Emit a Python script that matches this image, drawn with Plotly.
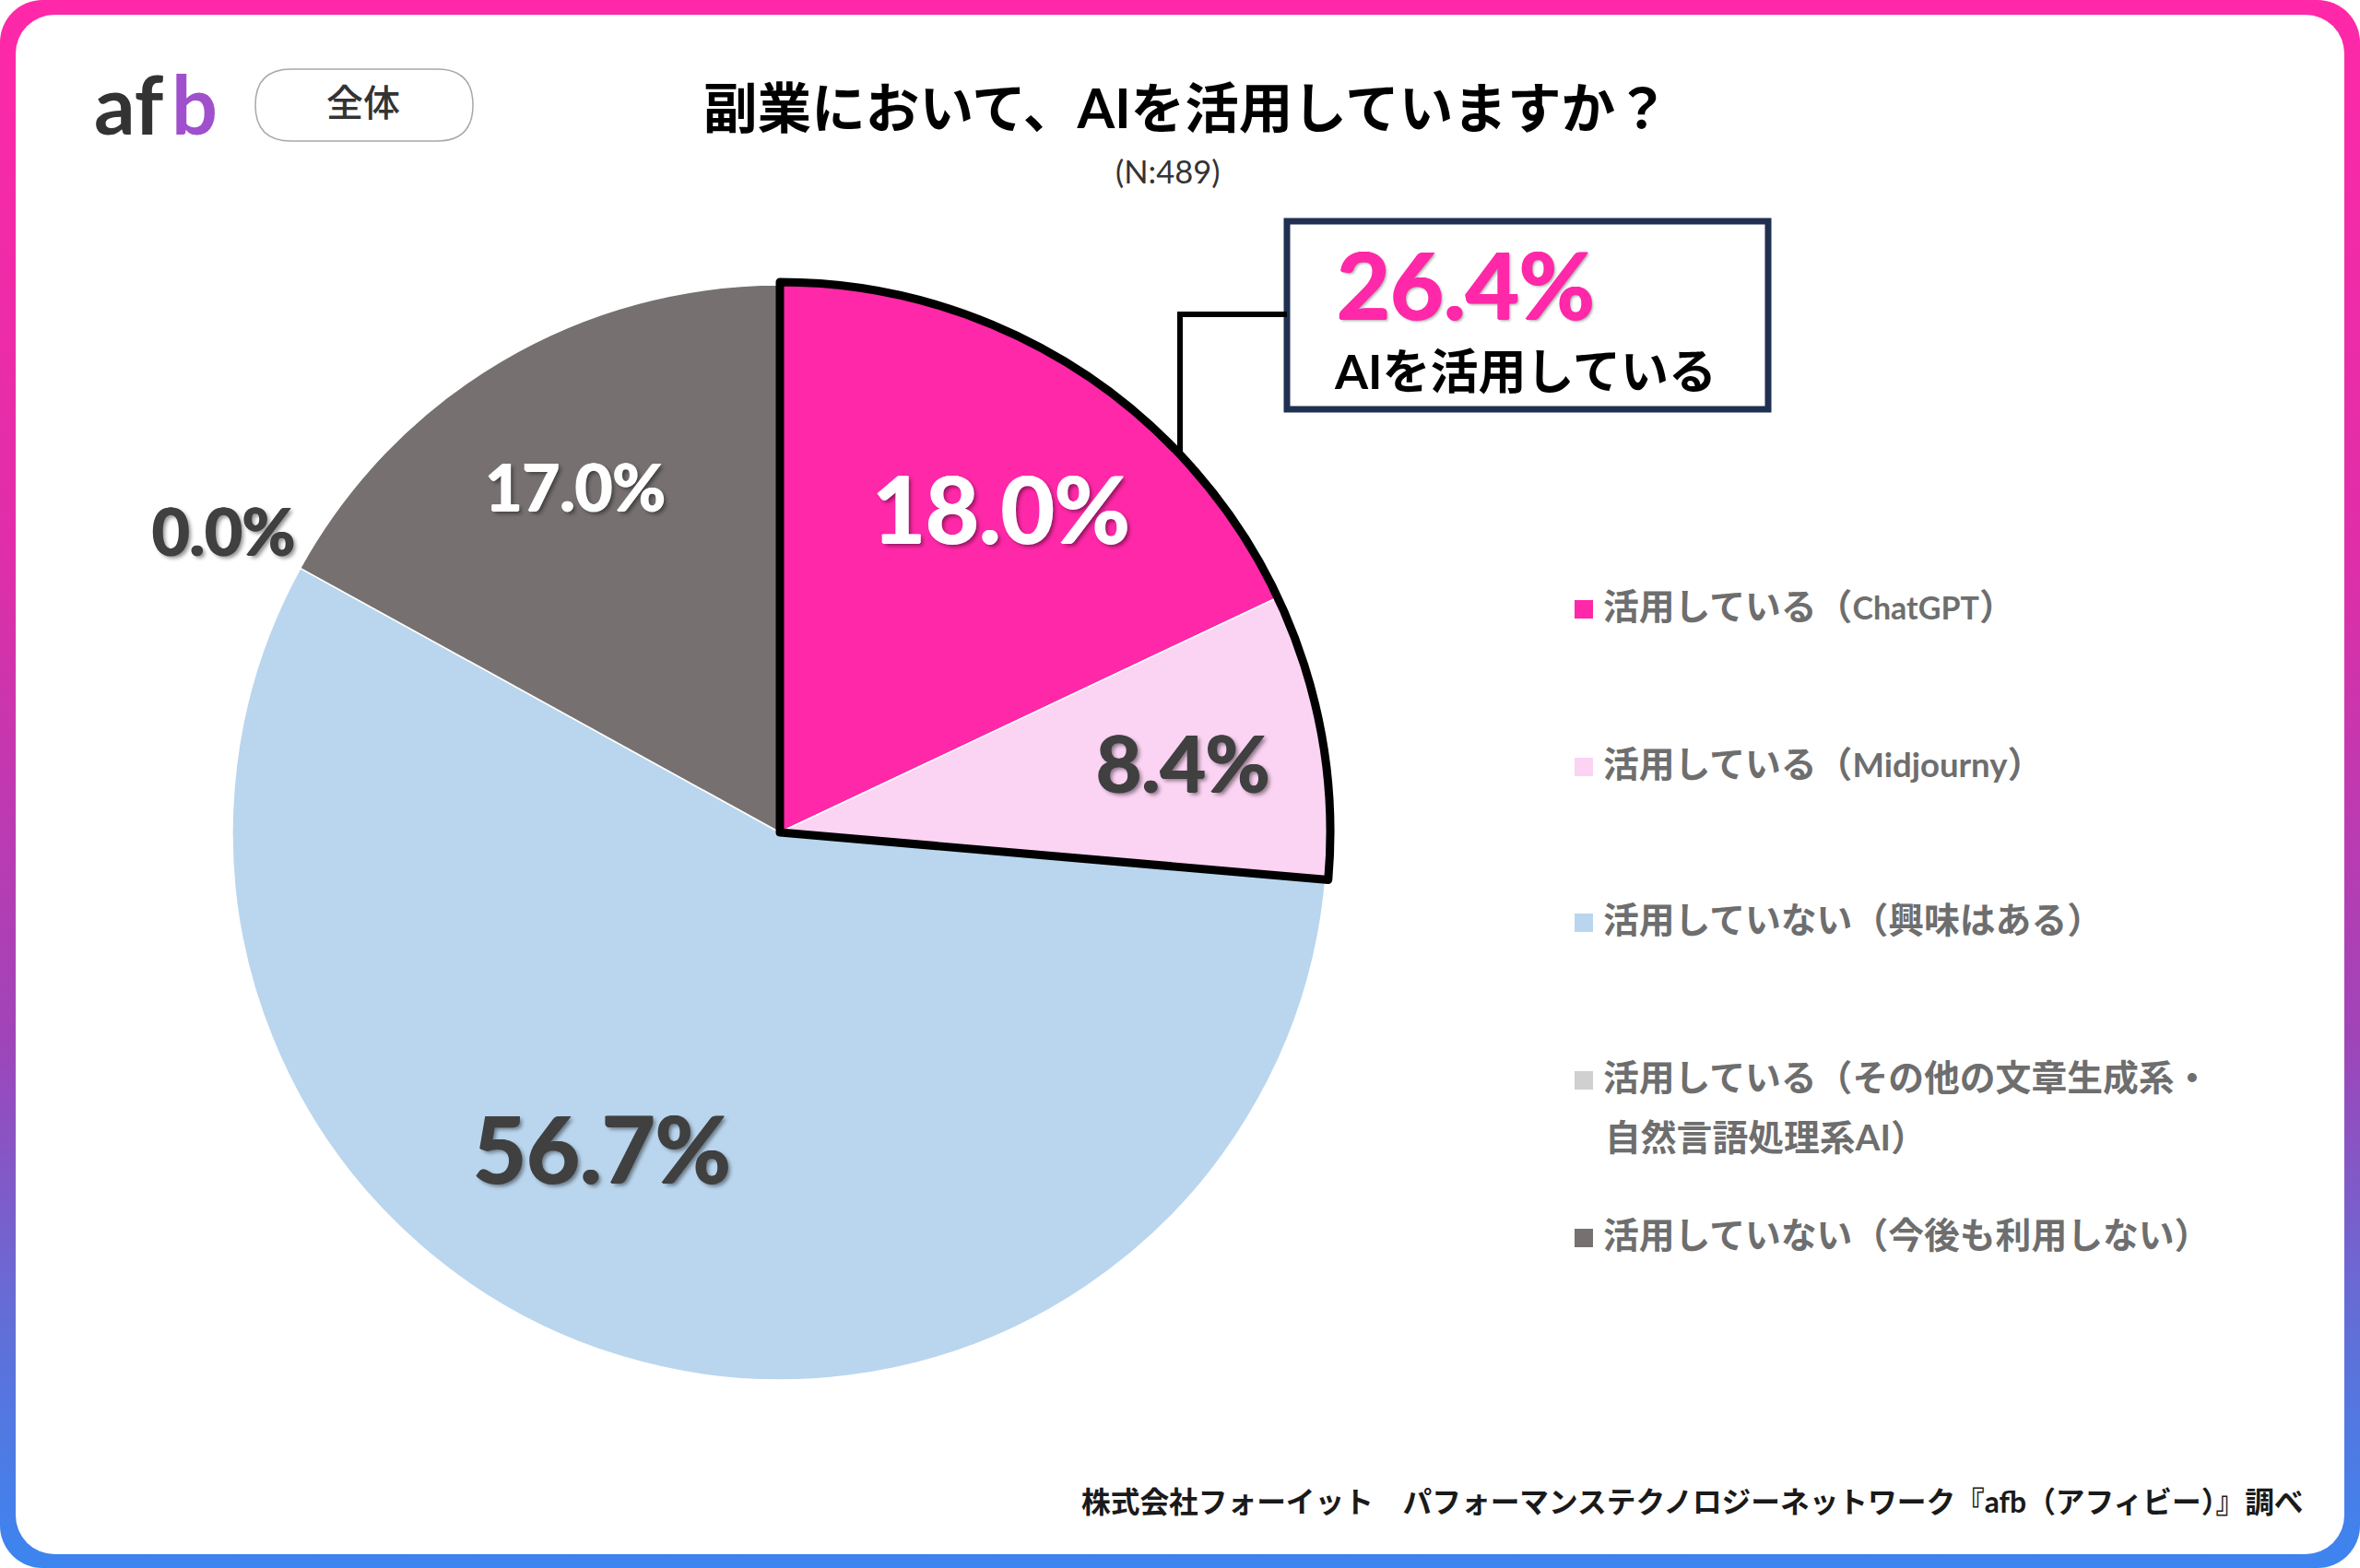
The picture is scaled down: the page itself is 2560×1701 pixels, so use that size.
import base64
import plotly.graph_objects as go

W, H = 2560, 1701

# ---- data ----
categories = ["活用している（ChatGPT）", "活用している（Midjourny）", "活用していない（興味はある）",
              "活用している（その他の文章生成系・自然言語処理系AI）", "活用していない（今後も利用しない）"]
values = [18.0, 8.4, 56.7, 0.0, 17.0]
highlight_indices = [0, 1]
highlight_caption = "AIを活用している"
legend_lines = [["活用している（ChatGPT）"], ["活用している（Midjourny）"], ["活用していない（興味はある）"],
                ["活用している（その他の文章生成系・", "自然言語処理系AI）"], ["活用していない（今後も利用しない）"]]
title_text = "副業において、AIを活用していますか？"
subtitle_text = "(N:489)"
badge_text = "全体"
footer_text = "株式会社フォーイット　パフォーマンステクノロジーネットワーク『afb（アフィビー）』調べ"

# ---- styles / layout ----
colors = ["#FF28A8", "#FBD3F3", "#BAD6EE", "#D0D0D0", "#767070"]
label_colors = ["#FFFFFF", "#404040", "#404040", "#404040", "#FFFFFF"]
label_sizes = [100, 85, 100, 70, 70]
label_xy = [(1086, 550), (1283, 826), (653, 1244), (242, 575), (624, 527)]
legend_y = [661, 832, 1001, 1172, 1343]
FONT = "Lato, 'Noto Sans CJK JP', sans-serif"
CX, CY, R = 846, 903, 594
RO = 597


def px(x):
    return x / W


def py(y):
    return 1 - y / H


def note(text, x, y, size, color, anchor="center", weight=400, shadow=None):
    return dict(text=text, x=px(x), y=py(y), xref="paper", yref="paper", showarrow=False,
                xanchor=anchor, yanchor="middle", align="left",
                font=dict(family=FONT, size=size, color=color, weight=weight,
                          **({"shadow": shadow} if shadow else {})))


def heavy(color, blur="3px 3px 4px rgba(0,0,0,0.45)"):
    return f"1px 0 0 {color}, -1px 0 0 {color}, 0 1px 0 {color}, {blur}"


def legend_markup(text):
    text = text.replace("ChatGPT", '<span style="font-size:34px">ChatGPT</span>')
    text = text.replace("Midjourny", '<span style="font-size:36.5px">Midjourny</span>')
    return text


frame_svg = f'''<svg xmlns="http://www.w3.org/2000/svg" width="{W}" height="{H}" viewBox="0 0 {W} {H}">
<defs><linearGradient id="g" x1="0" y1="0" x2="0" y2="1">
<stop offset="0" stop-color="#FF28A8"/><stop offset="0.35" stop-color="#E02EA8"/>
<stop offset="0.66" stop-color="#A044B8"/><stop offset="0.85" stop-color="#6070D8"/>
<stop offset="1" stop-color="#3C85F0"/></linearGradient></defs>
<rect x="0" y="0" width="{W}" height="{H}" rx="46" ry="46" fill="url(#g)"/>
<rect x="17" y="16" width="{W-34}" height="{H-31}" rx="42" ry="42" fill="#FFFFFF"/></svg>'''
frame_uri = "data:image/svg+xml;base64," + base64.b64encode(frame_svg.encode()).decode()

pie = go.Pie(labels=categories, values=values, sort=False, direction="clockwise", rotation=0,
             textinfo="none", showlegend=False,
             marker=dict(colors=colors, line=dict(color="#FFFFFF", width=1.5)),
             domain=dict(x=[px(CX - R), px(CX + R)], y=[py(CY + R), py(CY - R)]))

highlight_value = sum(values[i] for i in highlight_indices)
rest_value = sum(values) - highlight_value
outline = go.Pie(labels=[highlight_caption, "その他"], values=[highlight_value, rest_value],
                 sort=False, direction="clockwise", rotation=0, textinfo="none", showlegend=False,
                 hoverinfo="skip",
                 marker=dict(colors=["rgba(0,0,0,0)", "rgba(0,0,0,0)"],
                             line=dict(color=["#000000", "rgba(0,0,0,0)"], width=[9, 0])),
                 domain=dict(x=[px(CX - RO), px(CX + RO)], y=[py(CY + RO), py(CY - RO)]))

fig = go.Figure([pie, outline])

annotations = [
    note(title_text, 1287, 116, 58.6, "#000000", weight=700),
    note(subtitle_text, 1266, 185, 34.5, "#333333"),
    note(badge_text, 394, 111, 40, "#333333", weight=500),
    note(footer_text, 2501, 1629, 31.7, "#1A1A1A", anchor="right", weight=700),
    note(f"{highlight_value:.1f}%", 1448, 307, 100, "#FF28A8", anchor="left", weight=700,
         shadow=heavy("#FF28A8", "2px 2px 3px rgba(0,0,0,0.35)")),
    note(highlight_caption, 1445, 402, 52, "#000000", anchor="left", weight=700),
    note("af", 100, 112, 88, "#333333", anchor="left", weight=700),
    note("b", 184, 112, 88, "#A050CC", anchor="left", weight=700),
]
for v, c, s, (x, y) in zip(values, label_colors, label_sizes, label_xy):
    annotations.append(note(f"{v:.1f}%", x, y, s, c, weight=700, shadow=heavy(c)))

shapes = [
    # badge pill
    dict(type="path", xref="paper", yref="paper", layer="above", fillcolor="#FFFFFF",
         line=dict(color="#A8A8A8", width=1.5),
         path=f"M {px(316)} {py(75)} L {px(474)} {py(75)} "
              f"Q {px(513)} {py(75)} {px(513)} {py(114)} Q {px(513)} {py(153)} {px(474)} {py(153)} "
              f"L {px(316)} {py(153)} Q {px(277)} {py(153)} {px(277)} {py(114)} "
              f"Q {px(277)} {py(75)} {px(316)} {py(75)} Z"),
    # callout box
    dict(type="rect", xref="paper", yref="paper", layer="above", fillcolor="#FFFFFF",
         line=dict(color="#1F3050", width=7),
         x0=px(1396), x1=px(1918), y0=py(240), y1=py(444)),
    # connector
    dict(type="path", xref="paper", yref="paper", layer="above", line=dict(color="#000000", width=6),
         path=f"M {px(1396)} {py(341)} L {px(1280)} {py(341)} L {px(1280)} {py(495)}"),
]
for y, c in zip(legend_y, colors):
    shapes.append(dict(type="rect", xref="paper", yref="paper", layer="above", fillcolor=c,
                       line=dict(width=0), x0=px(1708), x1=px(1728), y0=py(y - 10), y1=py(y + 10)))

for lines, y in zip(legend_lines, legend_y):
    annotations.append(note(legend_markup(lines[0]), 1737, y - 4, 38.8, "#6E6E6E", anchor="left", weight=700))
    for k, extra in enumerate(lines[1:], start=1):
        annotations.append(note(extra, 1739, y - 4 + 65 * k, 38.8, "#6E6E6E", anchor="left", weight=700))

fig.update_layout(
    width=W, height=H, margin=dict(l=0, r=0, t=0, b=0), autosize=False,
    paper_bgcolor="#FFFFFF", plot_bgcolor="#FFFFFF", showlegend=False,
    images=[dict(source=frame_uri, xref="paper", yref="paper", x=0, y=1, sizex=1, sizey=1,
                 xanchor="left", yanchor="top", sizing="stretch", layer="below")],
    shapes=shapes, annotations=annotations,
)
fig.write_html("out.html", config=dict(displayModeBar=False),
               post_script="document.body.style.margin='0';document.documentElement.style.overflow='hidden';")
